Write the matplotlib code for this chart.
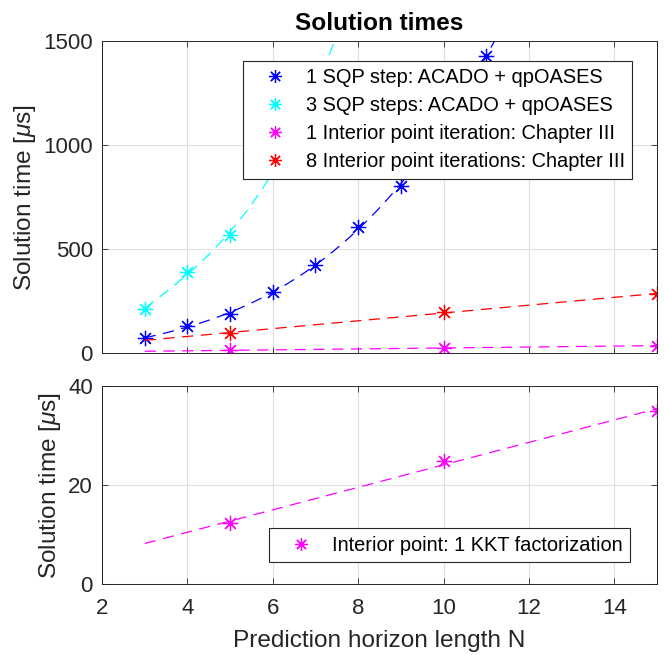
import numpy as np
import matplotlib
matplotlib.use("Agg")
import matplotlib.pyplot as plt

plt.rcParams['font.family'] = ['Liberation Sans', 'DejaVu Sans']
plt.rcParams['mathtext.fontset'] = 'custom'
plt.rcParams['mathtext.it'] = 'Liberation Sans:italic'
plt.rcParams['mathtext.rm'] = 'Liberation Sans'

# Data
N_sqp1 = [3, 4, 5, 6, 7, 8, 9, 10, 11]
t_sqp1 = [72, 130, 188, 293, 423, 606, 803, 1090, 1428]
N_sqp3 = [3, 4, 5, 6, 7]
t_sqp3 = [212, 389, 567, 880, 1270]
N_ip = [5, 10, 15]
t_ip1 = [12.3, 24.9, 35.0]
t_ip8 = [96, 197, 284]
t_kkt = [12.3, 24.9, 35.0]

labels_top = ["1 SQP step: ACADO + qpOASES",
              "3 SQP steps: ACADO + qpOASES",
              "1 Interior point iteration: Chapter III",
              "8 Interior point iterations: Chapter III"]
label_bot = "Interior point: 1 KKT factorization"

EDGE = '#262626'
GRID = '#e0e0e0'
star = (8, 2, 0)
BLUE, CYAN, MAG, RED = '#0000ff', '#00ffff', '#ff00ff', '#ff0000'
TICK_FS = 16
LAB_FS = 17.6
LEG_FS = 14.4

fig = plt.figure(figsize=(6.65, 6.55), dpi=100)
ax1 = fig.add_axes([0.1534, 0.4611, 0.8346, 0.4763])
ax2 = fig.add_axes([0.1534, 0.1084, 0.8346, 0.3023])

xs = np.linspace(3, 15, 300)
DASH = (0, (9, 6))

def fitline(ax, x, y, deg, color):
    p = np.polyfit(x, y, deg)
    ax.plot(xs, np.polyval(p, xs), linestyle=DASH, color=color, lw=0.9)

series = [(N_sqp1, t_sqp1, 3, BLUE), (N_sqp3, t_sqp3, 3, CYAN),
          (N_ip, t_ip1, 1, MAG), (N_ip, t_ip8, 1, RED)]
handles = []
for (x, y, deg, c), lab in zip(series, labels_top):
    fitline(ax1, x, y, deg, c)
    h, = ax1.plot(x, y, linestyle='none', marker=star, ms=11, mew=0.9,
                  color=c, label=lab)
    handles.append(h)

fitline(ax2, N_ip, t_kkt, 1, MAG)
ax2.plot(N_ip, t_kkt, linestyle='none', marker=star, ms=11, mew=0.9,
         color=MAG, label=label_bot)

for ax in (ax1, ax2):
    ax.set_xlim(2, 15)
    ax.set_xticks([2, 4, 6, 8, 10, 12, 14])
    ax.grid(True, color=GRID, lw=0.8)
    ax.set_axisbelow(True)
    ax.tick_params(direction='in', top=True, right=True, length=4,
                   width=0.6, color=EDGE, labelsize=TICK_FS, labelcolor=EDGE)
    ax.tick_params(axis='x', pad=10)
    ax.tick_params(axis='y', pad=6.5)
    for s in ax.spines.values():
        s.set_color(EDGE)
        s.set_linewidth(0.7)

ax1.set_ylim(0, 1500)
ax1.set_yticks([0, 500, 1000, 1500])
ax1.set_xticklabels([])
ax1.set_ylabel(r"Solution time [$\mu$s]", fontsize=LAB_FS, color=EDGE, labelpad=4)
ax1.set_title("Solution times", fontsize=LAB_FS, fontweight='bold', color='black', pad=8)

ax2.set_ylim(0, 40)
ax2.set_yticks([0, 20, 40])
ax2.set_ylabel(r"Solution time [$\mu$s]", fontsize=LAB_FS, color=EDGE, labelpad=4)
ax2.set_xlabel("Prediction horizon length N", fontsize=LAB_FS, color=EDGE, labelpad=8)

leg_kw = dict(fontsize=LEG_FS, frameon=True, fancybox=False, edgecolor=EDGE,
              framealpha=1, handlelength=2.46, handletextpad=0.32, borderpad=0.37,
              labelspacing=0.45, borderaxespad=0, markerscale=0.85)

leg1 = ax1.legend(handles=handles, loc='upper right', bbox_to_anchor=(0.955, 0.936),
                  **leg_kw)
leg1.get_frame().set_linewidth(0.8)

leg2 = ax2.legend(loc='lower right', bbox_to_anchor=(0.951, 0.11), **leg_kw)
leg2.get_frame().set_linewidth(0.8)

fig.savefig("out.png", dpi=100)
